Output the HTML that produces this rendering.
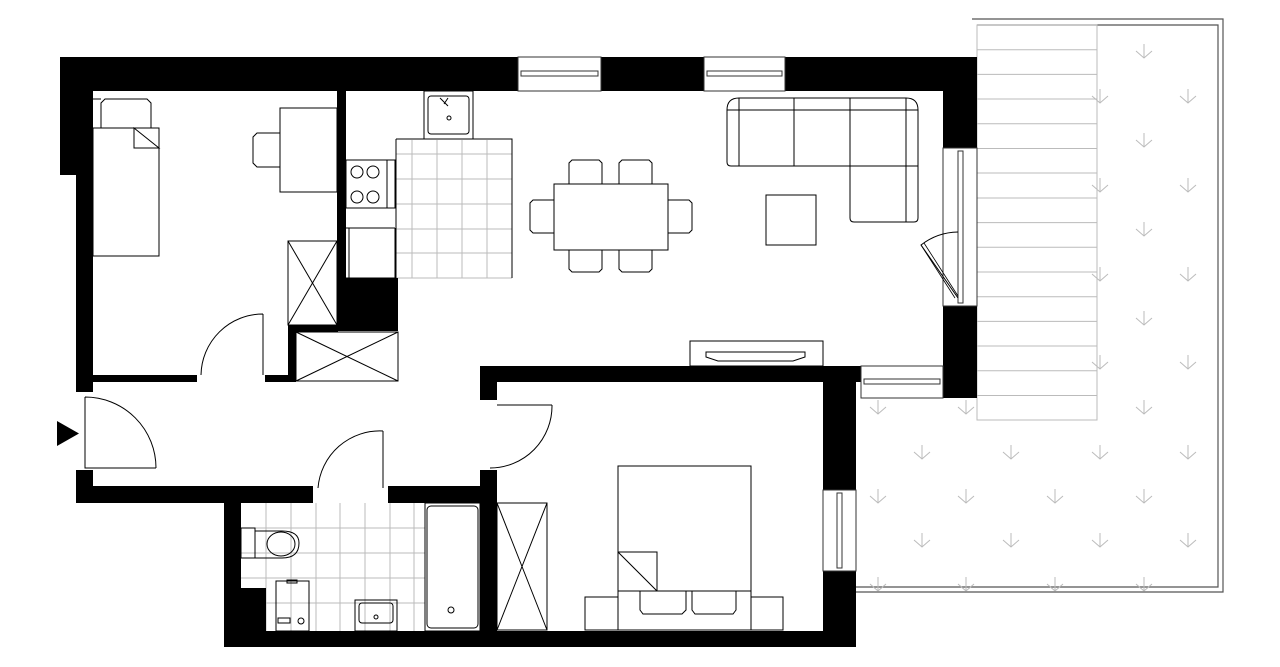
<!DOCTYPE html>
<html><head><meta charset="utf-8"><style>html,body{margin:0;padding:0;background:#fff;}svg{display:block}</style></head>
<body>
<svg width="1280" height="667" viewBox="0 0 1280 667" xmlns="http://www.w3.org/2000/svg">
<defs>
<g id="arr"><path d="M0,-7 V7 M-8,0 L0,7 L8,0" fill="none" stroke="#bbb" stroke-width="1"/></g>
</defs>
<!-- terrace -->
<g fill="none" stroke="#555" stroke-width="1.2">
<path d="M972,19 H1223 V592 H856"/>
<path d="M977,25 H1218 V587 H856"/>
</g>
<g stroke="#bbb" stroke-width="1" fill="none">
<rect x="977" y="25" width="120" height="395"/>
<path d="M977,49.7H1097M977,74.4H1097M977,99H1097M977,123.8H1097M977,148.5H1097M977,173H1097M977,198H1097M977,222.6H1097M977,247.3H1097M977,272H1097M977,296.7H1097M977,321.4H1097M977,346H1097M977,370.8H1097M977,395.5H1097"/>
</g>
<g>
<use href="#arr" x="1144" y="51"/><use href="#arr" x="1188" y="96"/><use href="#arr" x="1100" y="96"/>
<use href="#arr" x="1144" y="140"/><use href="#arr" x="1188" y="185"/><use href="#arr" x="1100" y="185"/>
<use href="#arr" x="1144" y="229"/><use href="#arr" x="1188" y="274"/><use href="#arr" x="1100" y="274"/>
<use href="#arr" x="1144" y="318"/><use href="#arr" x="1188" y="362"/><use href="#arr" x="1100" y="362"/>
<use href="#arr" x="1144" y="407"/><use href="#arr" x="966" y="407"/><use href="#arr" x="878" y="407"/>
<use href="#arr" x="922" y="452"/><use href="#arr" x="1011" y="452"/><use href="#arr" x="1100" y="452"/><use href="#arr" x="1188" y="452"/>
<use href="#arr" x="878" y="496"/><use href="#arr" x="966" y="496"/><use href="#arr" x="1055" y="496"/><use href="#arr" x="1144" y="496"/>
<use href="#arr" x="922" y="540"/><use href="#arr" x="1011" y="540"/><use href="#arr" x="1100" y="540"/><use href="#arr" x="1188" y="540"/>
<use href="#arr" x="878" y="584"/><use href="#arr" x="966" y="584"/><use href="#arr" x="1055" y="584"/><use href="#arr" x="1144" y="584"/>
</g>
<!-- tiles kitchen -->
<g stroke="#bbb" stroke-width="1" fill="none">
<path d="M412,140V278M437,140V278M462,140V278M487,140V278M512,140V278M396,154H512M396,179H512M396,204H512M396,229H512M396,253H512M396,278H512"/>
<!-- bathroom tiles -->
<path d="M266,503V631M291,503V631M316,503V631M340,503V631M365,503V631M390,503V631M414,503V631M241,528H425M241,553H425M241,578H425M241,603H425"/>
</g>
<!-- walls -->
<g fill="#000">
<rect x="60" y="57" width="458" height="34"/>
<rect x="601" y="57" width="103" height="34"/>
<rect x="785" y="57" width="192" height="34"/>
<rect x="60" y="57" width="33" height="118"/>
<rect x="76" y="57" width="17" height="335"/>
<rect x="943" y="57" width="34" height="91"/>
<rect x="943" y="306" width="34" height="92"/>
<rect x="337" y="91" width="9" height="240"/>
<rect x="337" y="278" width="61" height="53"/>
<rect x="288" y="325" width="8" height="57"/>
<rect x="288" y="325" width="50" height="7"/>
<rect x="93" y="375" width="104" height="7"/>
<rect x="265" y="375" width="31" height="7"/>
<rect x="480" y="366" width="381" height="16"/>
<rect x="480" y="366" width="17" height="34"/>
<rect x="823" y="366" width="33" height="124"/>
<rect x="823" y="571" width="33" height="76"/>
<rect x="480" y="470" width="17" height="177"/>
<rect x="76" y="470" width="17" height="33"/>
<rect x="76" y="486" width="237" height="17"/>
<rect x="388" y="486" width="109" height="17"/>
<rect x="224" y="486" width="17" height="161"/>
<rect x="224" y="631" width="632" height="16"/>
<rect x="241" y="588" width="25" height="43"/>
</g>
<!-- windows -->
<g fill="#fff" stroke="#333" stroke-width="1">
<rect x="518" y="57" width="83" height="34"/><rect x="521" y="71" width="77" height="5"/>
<rect x="704" y="57" width="81" height="34"/><rect x="707" y="71" width="75" height="5"/>
<rect x="943" y="148" width="34" height="158"/><rect x="958" y="151" width="5" height="152"/>
<rect x="861" y="366" width="82" height="32"/><rect x="864" y="379" width="76" height="5"/>
<rect x="823" y="490" width="33" height="81"/><rect x="837" y="493" width="5" height="75"/>
</g>
<g fill="none" stroke="#000" stroke-width="1">
<!-- bedroom1 -->
<path d="M93,99 H101 V99 M101,128 V103 l4,-4 h42 l4,4 v25"/>
<rect x="93" y="128" width="66" height="128"/>
<path d="M134,128 L159,148 H134 Z" fill="#fff"/>
<rect x="280" y="108" width="57" height="84"/>
<path d="M280,133 H257 l-4,4 v26 l4,4 H280"/>
<rect x="288" y="241" width="49" height="84"/><path d="M288,241 L337,325 M337,241 L288,325"/>
<rect x="296" y="332" width="102" height="49"/><path d="M296,332 L398,381 M398,332 L296,381"/>
<path d="M263,314 V375 M263,314 A62,62 0 0 0 201,375"/>
<!-- kitchen -->
<rect x="424" y="91" width="49" height="48"/><rect x="428" y="96" width="41" height="38" rx="3"/>
<circle cx="449" cy="118" r="2"/><path d="M440,98 l8,8 M448,98 l-4,6"/>
<path d="M396,139 H512 V278 M396,139 V278"/>
<rect x="346" y="160" width="41" height="48"/><rect x="387" y="160" width="8" height="48"/>
<circle cx="357" cy="172" r="6"/><circle cx="373" cy="172" r="6"/><circle cx="357" cy="197" r="6"/><circle cx="373" cy="197" r="6"/>
<path d="M346,228 H395 M346,278 H395 V228 M349,228 V278"/>
<!-- dining -->
<rect x="554" y="184" width="114" height="66"/>
<path d="M569,184 V163 l3,-3 h27 l3,3 V184 M619,184 V163 l3,-3 h27 l3,3 V184"/>
<path d="M569,250 V269 l3,3 h27 l3,-3 V250 M619,250 V269 l3,3 h27 l3,-3 V250"/>
<path d="M554,200 H533 l-3,3 v27 l3,3 H554 M668,200 H689 l3,3 v27 l-3,3 H668"/>
<!-- sofa -->
<path d="M739,98 H906 Q918,98 918,110 V218 Q918,222 914,222 H854 Q850,222 850,218 V166 H731 Q727,166 727,162 V110 Q727,98 739,98 Z"/>
<path d="M727,110 H918 M739,98 V166 M906,98 V222 M794,98 V166 M850,98 V166 M850,166 H918"/>
<rect x="766" y="195" width="50" height="50"/>
<!-- TV -->
<rect x="690" y="341" width="133" height="25"/>
<path d="M706,352 H805 V357 l-12,4 H718 l-12,-4 Z"/>
<!-- balcony door -->
<path d="M958,232 A62,62 0 0 0 921,245 L958,298" />
<path d="M921,245 L955,298 M924,243 L958,296" stroke-width="0.8"/>
<!-- bedroom2 -->
<path d="M497,405 H552 M552,405 A62,62 0 0 1 490,468"/>
<rect x="497" y="503" width="50" height="127"/><path d="M497,503 L547,630 M547,503 L497,630"/>
<rect x="618" y="466" width="133" height="164"/>
<path d="M618,552 H657 V591 M618,552 L657,591 M618,591 H751"/>
<path d="M640,591 V610 l3,4 h39 l4,-4 V591 M692,591 V610 l3,4 h38 l3,-4 V591"/>
<rect x="585" y="597" width="33" height="33"/><rect x="751" y="597" width="32" height="33"/>
<!-- hall doors -->
<path d="M85,397 V468 H156 M156,468 A71,71 0 0 0 85,397"/>
<path d="M383,431 V488 M383,431 A62,62 0 0 0 318,488"/>
<!-- bathroom -->
<rect x="241" y="528" width="14" height="30"/>
<path d="M255,531 H282 Q299,531 299,543 Q299,558 282,558 H255"/>
<ellipse cx="281" cy="544" rx="14" ry="12"/>
<rect x="276" y="581" width="33" height="50"/><rect x="278" y="618" width="12" height="5"/><circle cx="301" cy="621" r="3"/><rect x="287" y="580" width="10" height="3"/>
<rect x="355" y="600" width="42" height="31"/><rect x="359" y="603" width="34" height="20" rx="3"/><circle cx="376" cy="617" r="2"/>
<rect x="425" y="503" width="55" height="128"/><rect x="427" y="506" width="51" height="122" rx="4"/><circle cx="451" cy="610" r="3"/>
</g>
<!-- entrance triangle -->
<path d="M57,421 L79,433.5 L57,446 Z" fill="#000"/>
</svg>
</body></html>
